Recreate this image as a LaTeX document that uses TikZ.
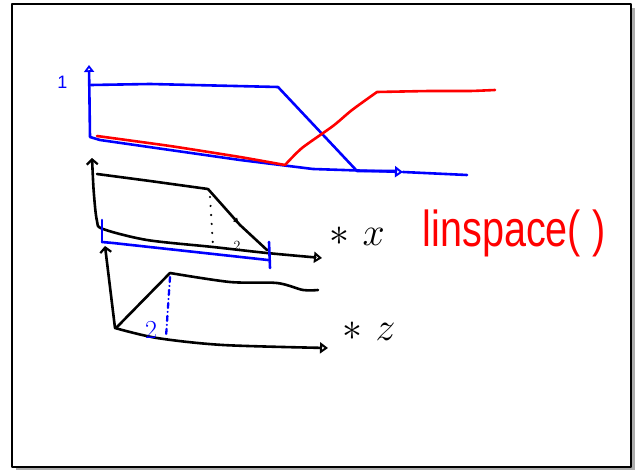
\documentclass[tikz,border=0pt]{standalone}
\usepackage{fontspec}
\usetikzlibrary{arrows.meta,decorations.markings}
\newfontfamily\handsans{Liberation Sans}
\definecolor{pblue}{RGB}{0,0,255}
\definecolor{pred}{RGB}{255,0,0}
\begin{document}
\begin{tikzpicture}[x=1pt,y=-1pt,line cap=round,line join=round,
  pen/.style={line width=2.6pt},
  axes/.style={{Straight Barb[length=5pt,width=11pt,line width=2.2pt]}-{Triangle[open,length=8pt,width=11pt,line width=2.2pt]}},
  lbl/.style={inner sep=0pt,anchor=base}]
\useasboundingbox (0,0) rectangle (639,470);
% frame with shadow
\fill[gray!65] (16,8) rectangle (635,470);
\filldraw[fill=white,draw=black,line width=2.2pt] (12,4) rectangle (631,467);

% ---------- top chart ----------
\node[pblue,lbl,font=\handsans\fontsize{18}{18}\selectfont] (one) at (62.5,89) {1};
\draw[pblue,pen,{Triangle[open,length=7pt,width=10pt,line width=2.2pt]}-{Triangle[open,length=8pt,width=11pt,line width=2.2pt]}]
  (89,65) -- (90,137) -- (100,140) -- (240,160) -- (313,169) -- (403,172);
\draw[pblue,pen] (403,172) -- (467,175);
\draw[pblue,pen] (91,85) -- (150,84) -- (278,87) -- (357,171) -- (395,171);
\draw[pred,pen] plot[smooth,tension=0.3] coordinates {(97,136) (170,146) (240,157) (285,165)}
  -- plot[smooth,tension=0.4] coordinates {(285,165) (302,148) (333,126) (352,110) (377,92)}
  -- plot[smooth,tension=0.3] coordinates {(377,92) (430,91) (470,91) (495,90)};

% ---------- middle chart ----------
\draw[pen,axes] plot[smooth,tension=0.5] coordinates
  {(92,158) (94,195) (97,221) (103,229) (147,240) (213,247) (267,253) (322,258)};
\draw[pen] (97,174) -- (150,181) -- (208,189);
\draw[pen,decoration={markings,mark=at position 0.55 with {\arrow{Latex[length=6pt,width=6pt]}}},postaction={decorate}]
  (208,189) -- (240,225) -- (267,250);
\draw[line width=2.4pt,dash pattern=on 0pt off 9pt] (210,197) -- (213,246);
\node[lbl,font=\fontsize{14}{14}\selectfont] (two1) at (237,250) {2};
\draw[pblue,pen] (102,220) -- (102,242);
\draw[pblue,pen] (102,242) -- (113,243) -- (268,260);
\draw[pblue,pen] (269,242) -- (270,268);
\node[lbl,scale=1.6,font=\Huge] (timesx) at (357,245) {$\ast\mkern6mu x$};
\node[pred,lbl,xscale=0.86,yscale=1.1,font=\handsans\fontsize{46}{46}\selectfont] (lin) at (514,247) {linspace( )};

% ---------- bottom chart ----------
\draw[pen,axes] (105,246) -- (115,328) -- plot[smooth,tension=0.5] coordinates
  {(115,328) (157,338) (223,345) (328,348)};
\draw[pen] (117,327) -- (170,273) -- plot[smooth,tension=0.5] coordinates
  {(170,273) (230,282) (277,283) (303,290) (318,290)};
\draw[pblue,line width=2.3pt,dash pattern=on 5pt off 4pt on 0pt off 4pt] (170,277) -- (166,337);
\node[pblue,lbl,font=\fontsize{26}{26}\selectfont] (two2) at (151,338) {2};
\node[lbl,scale=1.6,font=\Huge] (timesz) at (369,340) {$\ast\mkern6mu z$};
\end{tikzpicture}
\end{document}
